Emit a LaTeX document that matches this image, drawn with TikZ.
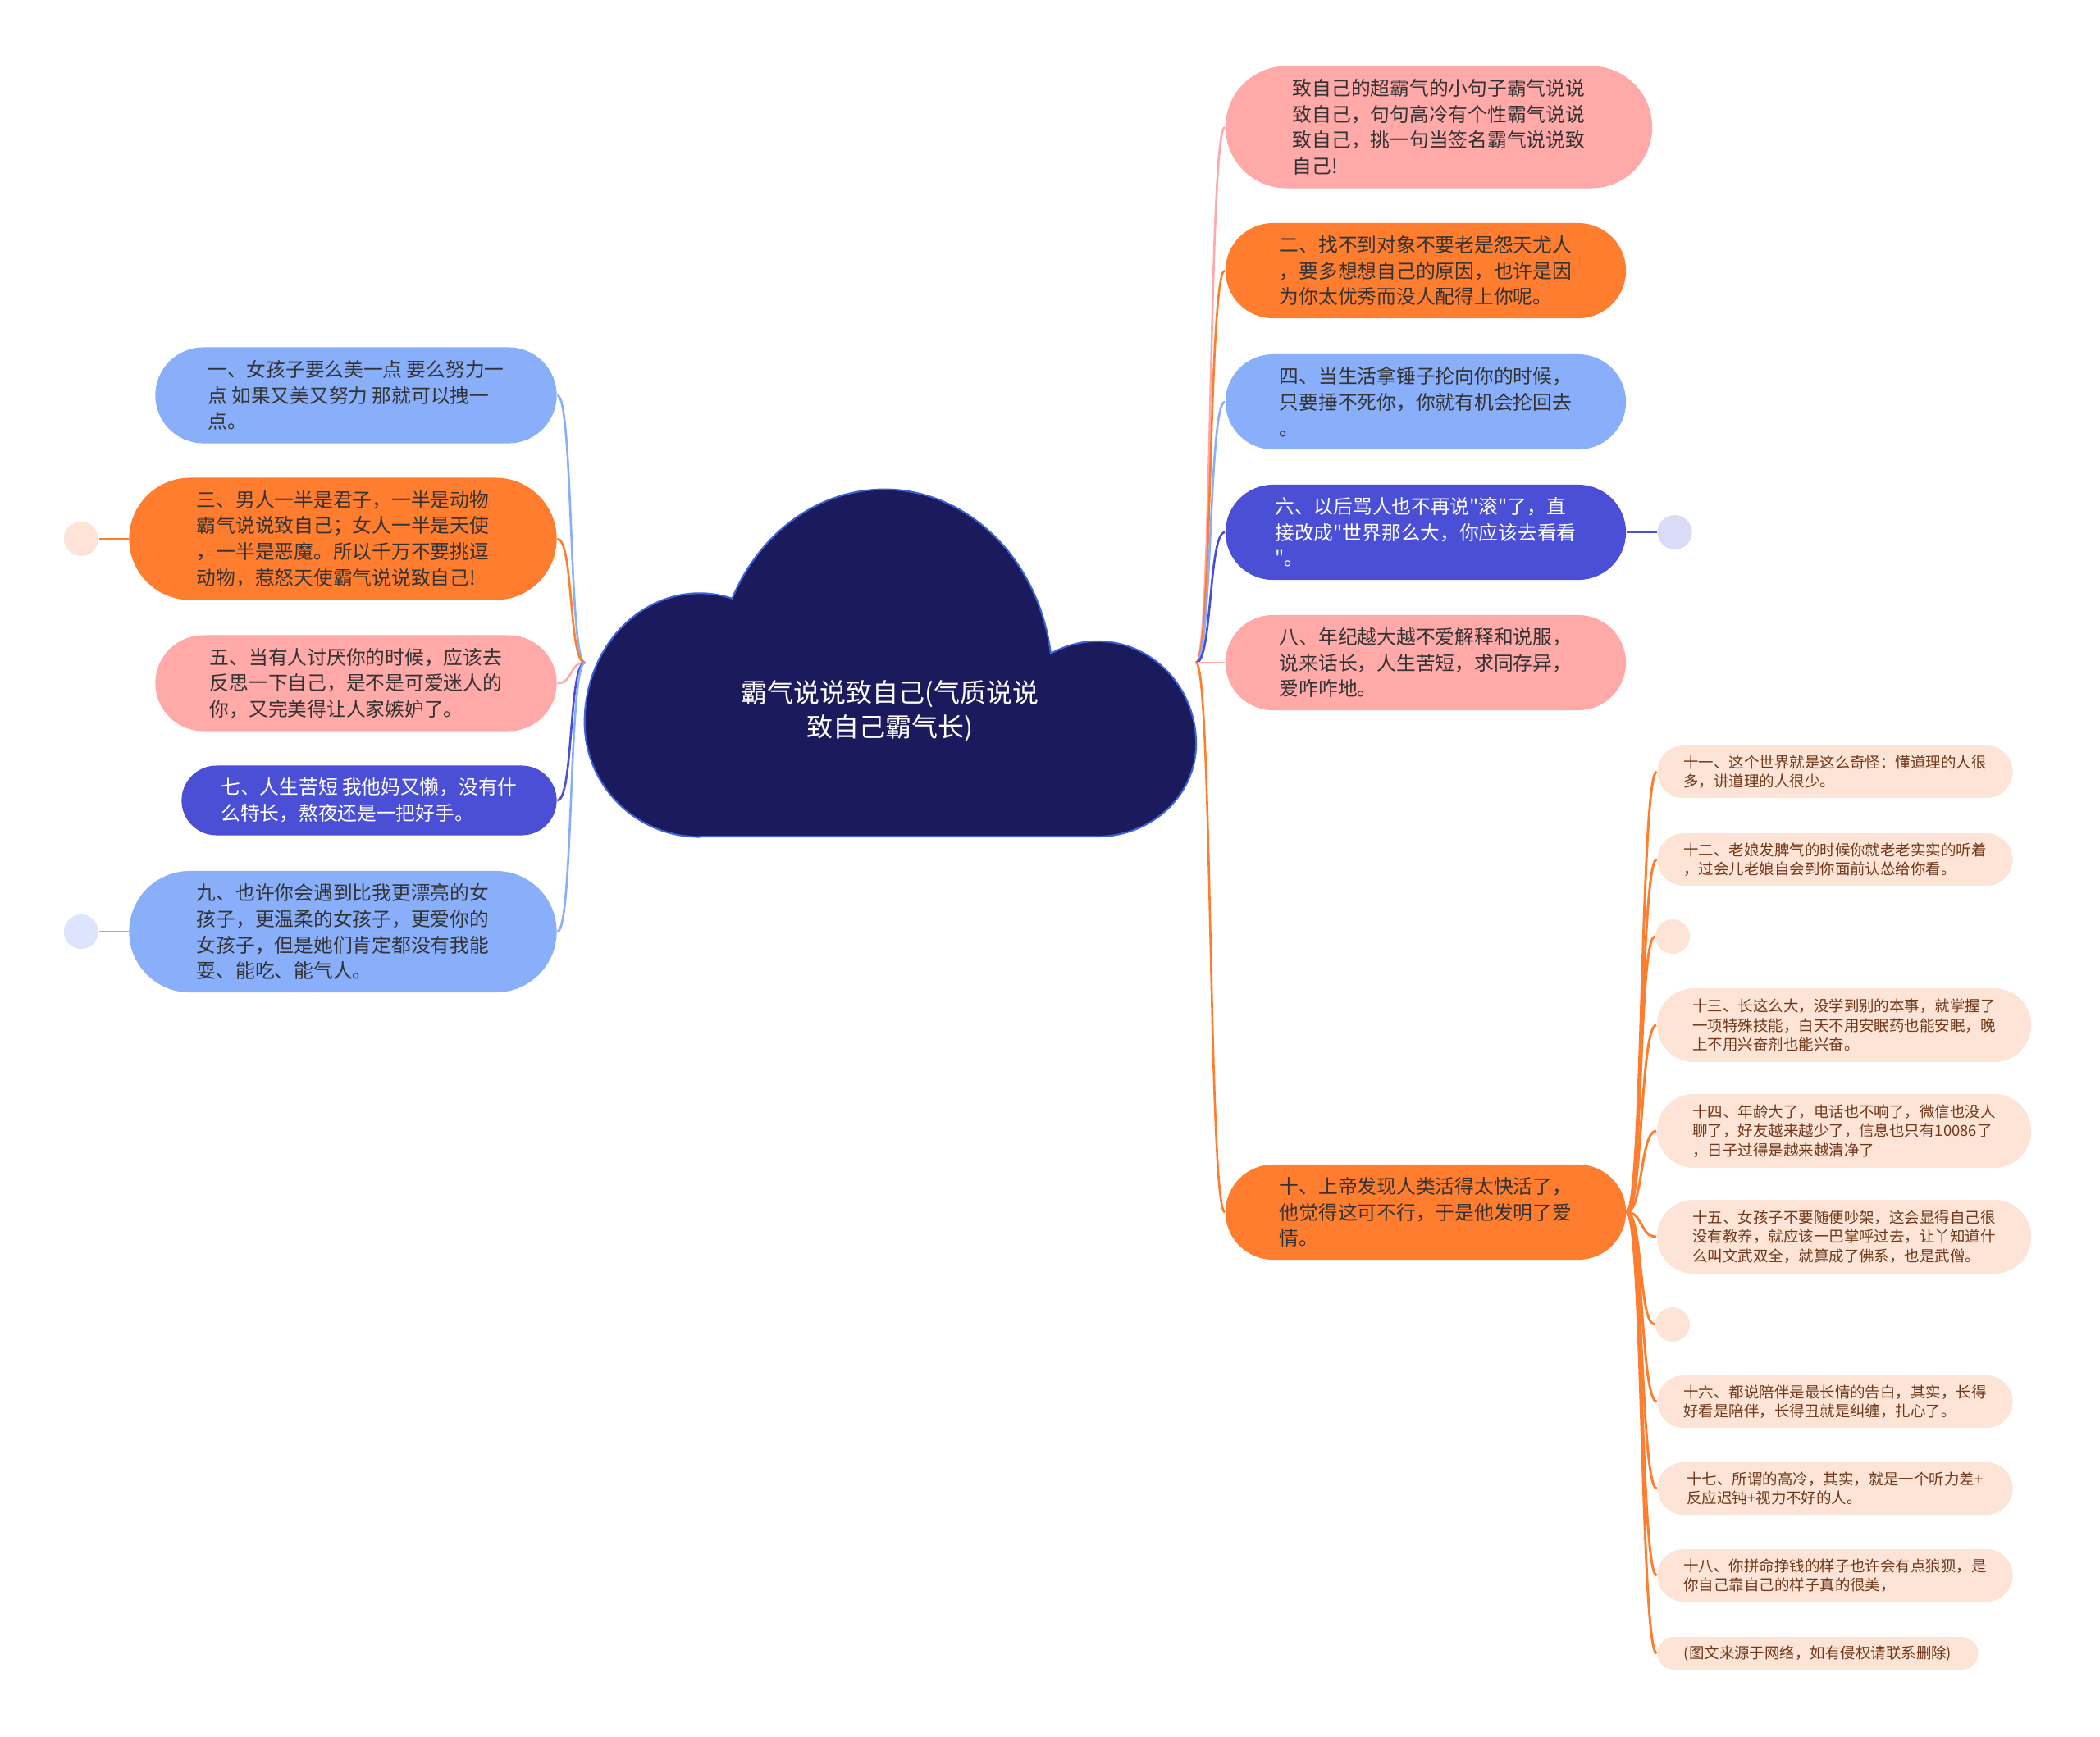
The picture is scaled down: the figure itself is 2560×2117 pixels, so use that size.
\documentclass[tikz,border=0pt]{standalone}
\usepackage{fontspec}
\newfontfamily\zhfont{Noto Sans CJK SC}
\usetikzlibrary{positioning,backgrounds}

\definecolor{pinkfill}{HTML}{FFA9A9}
\definecolor{orangefill}{HTML}{FF7D2E}
\definecolor{bluefill}{HTML}{89AFFA}
\definecolor{indigofill}{HTML}{4A4FD6}
\definecolor{peachfill}{HTML}{FDE4D6}
\definecolor{cloudfill}{HTML}{1B1A5C}
\definecolor{cloudedge}{HTML}{3E62D6}
\definecolor{textdark}{HTML}{333333}
\definecolor{textbrown}{HTML}{71391A}
\definecolor{dotblue}{HTML}{DCE5FD}
\definecolor{dotlilac}{HTML}{D9DBF7}

\begin{document}
\begin{tikzpicture}[x=0.01cm,y=0.01cm,
    bubble/.style 2 args={rectangle,align=left,inner sep=1pt,minimum width=#1,minimum height=#2,rounded corners=#2/2},
    main/.style={font=\zhfont\fontsize{6.75pt}{9pt}\selectfont,text=textdark},
    sub/.style={font=\zhfont\fontsize{5.25pt}{6.6pt}\selectfont,text=textbrown,fill=peachfill},
    dot/.style={circle,inner sep=0pt,minimum size=0.42cm},
    link/.style={line width=0.75pt},
    sublink/.style={line width=0.85pt,orangefill}]
    \useasboundingbox (0,0) rectangle (2560,-2117);

    \filldraw[fill=cloudfill,draw=cloudedge,line width=0.6pt] (853,-1020) -- (1338,-1020)
        arc[start angle=270,end angle=360,x radius=1.2cm,y radius=1.13cm]
        arc[start angle=0,end angle=118.4,x radius=1.2cm,y radius=1.25cm]
        arc[start angle=8.1,end angle=154.6,x radius=2.05cm,y radius=2.33cm]
        arc[start angle=73.5,end angle=180,x radius=1.4cm,y radius=1.57cm]
        arc[start angle=180,end angle=270,x radius=1.4cm,y radius=1.4cm] -- cycle;
    \node[font=\zhfont\fontsize{9.1pt}{11.8pt}\selectfont,text=white,align=center] (root) at (1085,-867) {霸气说说致自己(气质说说\\致自己霸气长)};
    \coordinate (rootR) at (1458,-808);
    \coordinate (rootL) at (713,-808);

    \node[bubble={5.2cm}{1.49cm},main,fill=pinkfill] (r1) at (1754,-155) {致自己的超霸气的小句子霸气说说\\致自己，句句高冷有个性霸气说说\\致自己，挑一句当签名霸气说说致\\自己!};
    \node[bubble={4.88cm}{1.16cm},main,fill=orangefill] (r2) at (1738,-330) {二、找不到对象不要老是怨天尤人\\，要多想想自己的原因，也许是因\\为你太优秀而没人配得上你呢。};
    \node[bubble={4.88cm}{1.16cm},main,fill=bluefill] (r3) at (1738,-490) {四、当生活拿锤子抡向你的时候，\\只要捶不死你，你就有机会抡回去\\。};
    \node[bubble={4.88cm}{1.16cm},main,fill=indigofill,text=white] (r4) at (1738,-649) {六、以后骂人也不再说"滚"了，直\\接改成"世界那么大，你应该去看看\\"。};
    \node[bubble={4.88cm}{1.16cm},main,fill=pinkfill] (r5) at (1738,-808) {八、年纪越大越不爱解释和说服，\\说来话长，人生苦短，求同存异，\\爱咋咋地。};
    \node[bubble={4.88cm}{1.16cm},main,fill=orangefill] (r6) at (1738,-1478) {十、上帝发现人类活得太快活了，\\他觉得这可不行，于是他发明了爱\\情。};
    \node[dot,fill=dotlilac,right=0.37cm of r4] (r4dot) {};

    \node[bubble={4.89cm}{1.17cm},main,fill=bluefill] (l1) at (434,-482) {一、女孩子要么美一点 要么努力一\\点 如果又美又努力 那就可以拽一\\点。};
    \node[bubble={5.21cm}{1.49cm},main,fill=orangefill] (l2) at (418,-657) {三、男人一半是君子，一半是动物\\霸气说说致自己；女人一半是天使\\，一半是恶魔。所以千万不要挑逗\\动物，惹怒天使霸气说说致自己!};
    \node[bubble={4.89cm}{1.17cm},main,fill=pinkfill] (l3) at (434,-833) {五、当有人讨厌你的时候，应该去\\反思一下自己，是不是可爱迷人的\\你，又完美得让人家嫉妒了。};
    \node[bubble={4.57cm}{0.85cm},main,fill=indigofill,text=white] (l4) at (450,-976) {七、人生苦短 我他妈又懒，没有什\\么特长，熬夜还是一把好手。};
    \node[bubble={5.21cm}{1.48cm},main,fill=bluefill] (l5) at (418,-1136) {九、也许你会遇到比我更漂亮的女\\孩子，更温柔的女孩子，更爱你的\\女孩子，但是她们肯定都没有我能\\耍、能吃、能气人。};
    \node[dot,fill=peachfill,left=0.36cm of l2] (l2dot) {};
    \node[dot,fill=dotblue,left=0.36cm of l5] (l5dot) {};

    \node[bubble={4.33cm}{0.64cm},sub] (s1) at (2237,-941) {十一、这个世界就是这么奇怪：懂道理的人很\\多，讲道理的人很少。};
    \node[bubble={4.33cm}{0.64cm},sub] (s2) at (2237,-1048) {十二、老娘发脾气的时候你就老老实实的听着\\，过会儿老娘自会到你面前认怂给你看。};
    \node[dot,fill=peachfill] (s3) at (2039,-1142) {};
    \node[bubble={4.56cm}{0.9cm},sub] (s4) at (2248,-1250) {十三、长这么大，没学到别的本事，就掌握了\\一项特殊技能，白天不用安眠药也能安眠，晚\\上不用兴奋剂也能兴奋。};
    \node[bubble={4.56cm}{0.9cm},sub] (s5) at (2248,-1379) {十四、年龄大了，电话也不响了，微信也没人\\聊了，好友越来越少了，信息也只有10086了\\，日子过得是越来越清净了};
    \node[bubble={4.56cm}{0.9cm},sub] (s6) at (2248,-1508) {十五、女孩子不要随便吵架，这会显得自己很\\没有教养，就应该一巴掌呼过去，让丫知道什\\么叫文武双全，就算成了佛系，也是武僧。};
    \node[dot,fill=peachfill] (s7) at (2039,-1615) {};
    \node[bubble={4.33cm}{0.64cm},sub] (s8) at (2237,-1709) {十六、都说陪伴是最长情的告白，其实，长得\\好看是陪伴，长得丑就是纠缠，扎心了。};
    \node[bubble={4.33cm}{0.64cm},sub] (s9) at (2237,-1815) {十七、所谓的高冷，其实，就是一个听力差+\\反应迟钝+视力不好的人。};
    \node[bubble={4.33cm}{0.64cm},sub] (s10) at (2237,-1921) {十八、你拼命挣钱的样子也许会有点狼狈，是\\你自己靠自己的样子真的很美，};
    \node[bubble={3.91cm}{0.4cm},sub] (s11) at (2216,-2016) {(图文来源于网络，如有侵权请联系删除)};

    \begin{scope}[on background layer]
        \foreach \n/\c in {r1/pinkfill,r2/orangefill,r3/bluefill,r4/indigofill,r5/pinkfill,r6/orangefill}
            \draw[link,\c] (rootR) .. controls +(20,0) and +(-20,0) .. (\n.west);
        \foreach \n/\c in {l1/bluefill,l2/orangefill,l3/pinkfill,l4/indigofill,l5/bluefill}
            \draw[link,\c] (rootL) .. controls +(-20,0) and +(20,0) .. (\n.east);
        \foreach \n in {s1,s2,s3,s4,s5,s6,s7,s8,s9,s10,s11}
            \draw[sublink] (r6.east) .. controls +(20,0) and +(-20,0) .. (\n.west);
        \draw[link,indigofill] (r4.east) -- (r4dot);
        \draw[link,orangefill] (l2.west) -- (l2dot);
        \draw[link,bluefill] (l5.west) -- (l5dot);
    \end{scope}
\end{tikzpicture}
\end{document}
